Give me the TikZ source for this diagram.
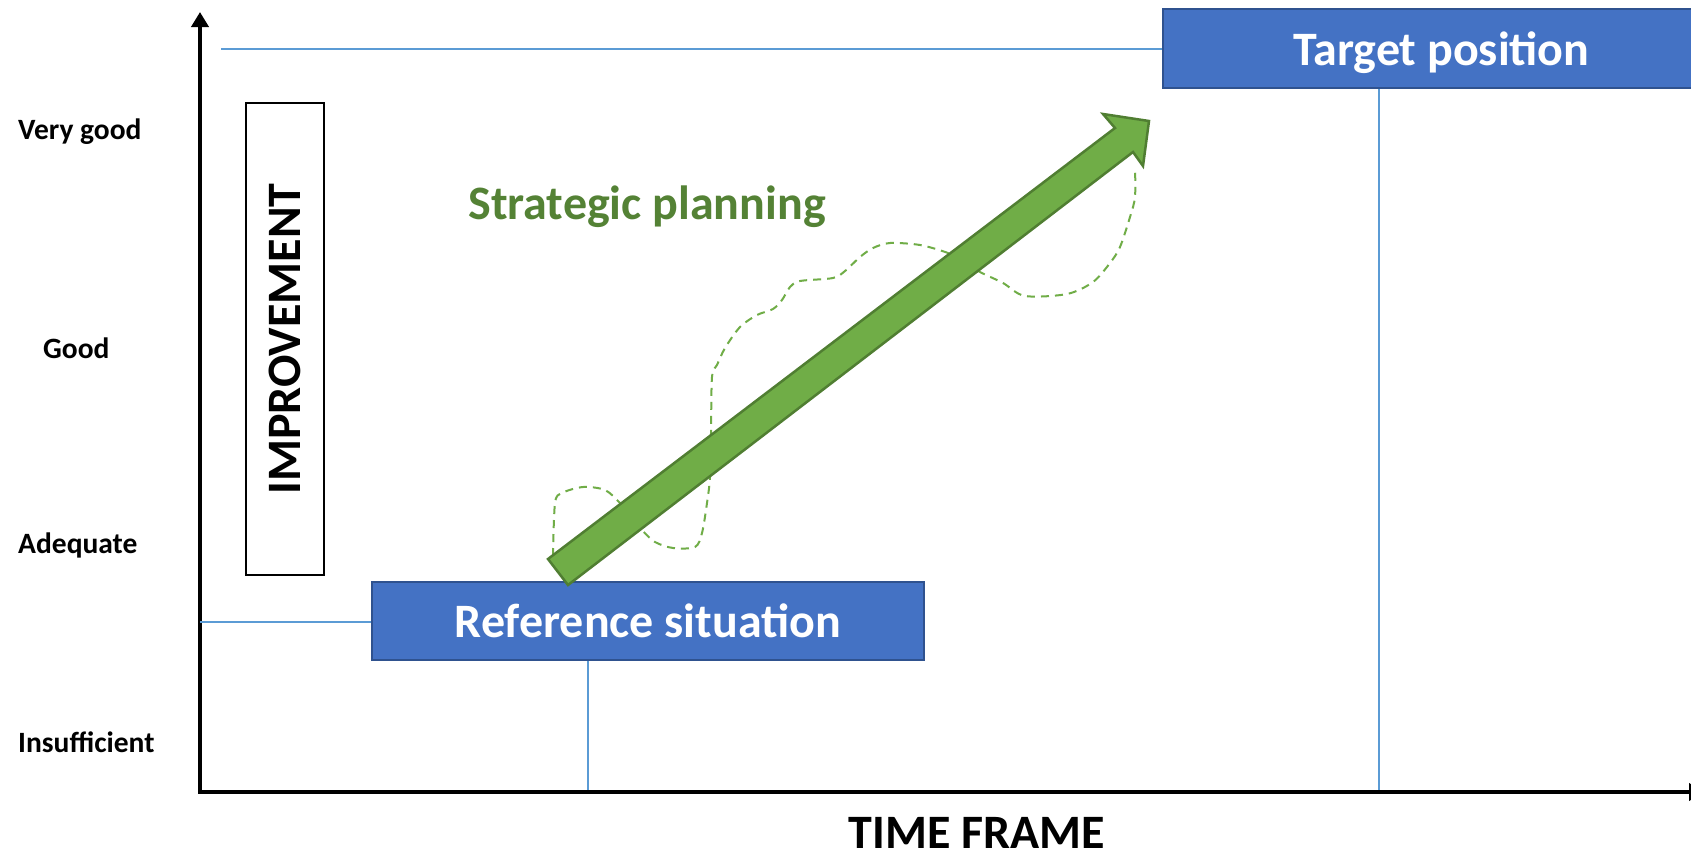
\documentclass[tikz,border=0pt]{standalone}
\usepackage{fontspec}
\setmainfont{Carlito}
\usetikzlibrary{arrows.meta}
\definecolor{boxblue}{HTML}{4472C4}
\definecolor{boxedge}{HTML}{2F528F}
\definecolor{guide}{HTML}{5B9BD5}
\definecolor{arrowgreen}{HTML}{70AD47}
\definecolor{arrowedge}{HTML}{507E32}
\definecolor{textgreen}{HTML}{548235}
\begin{document}
\begin{tikzpicture}[x=1pt,y=-1pt,
  bluebox/.style={draw=boxedge,line width=2pt,fill=boxblue,text=white,text depth=0pt,
    font=\bfseries\fontsize{48}{52}\selectfont,inner sep=0pt},
  guideline/.style={draw=guide,line width=1.3pt},
  axisline/.style={line width=4pt,-{Triangle[width=17pt,length=15pt]}},
  level/.style={anchor=west,font=\bfseries\fontsize{29.5}{33}\selectfont,inner sep=0pt},
  pathdash/.style={draw=arrowgreen,line width=2pt,dash pattern=on 8pt off 6pt}]
\useasboundingbox (0,0) rectangle (1691,855);
\clip (0,0) rectangle (1691,855);
\fill[white] (0,0) rectangle (1691,855);

% axes
\coordinate (origin) at (200,792);
\coordinate (ytop) at (200,12);
\coordinate (xend) at (1704,792);
\coordinate (xstart) at (198,792);
\draw[axisline] (origin) -- (ytop);
\draw[axisline] (xstart) -- (xend);

% level labels
\node[level] (vg) at (18,132) {Very good};
\node[level] (gd) at (43,348) {Good};
\node[level] (adq) at (18,545) {Adequate};
\node[level] (ins) at (18,742) {Insufficient};

% boxes
\node[bluebox,minimum width=557pt,minimum height=79pt] (target) at (1441.5,48.5) {Target position};
\node[bluebox,minimum width=552pt,minimum height=78pt] (ref) at (648,621) {Reference situation};
\node[draw,line width=1.5pt,rotate=90,minimum width=472pt,minimum height=78pt,inner sep=0pt,
  font=\bfseries\fontsize{48}{52}\selectfont] (imp) at (285,339) {IMPROVEMENT};

% guide lines
\coordinate (tl) at (221,49);
\draw[guideline] (tl) -- (tl -| target.west);
\coordinate (rl) at (200,622);
\draw[guideline] (rl) -- (rl -| ref.west);
\coordinate (rv) at (588,790);
\draw[guideline] (ref.south -| rv) -- (rv);
\coordinate (tv) at (1379,790);
\draw[guideline] (target.south -| tv) -- (tv);

% labels
\node[text=textgreen,font=\bfseries\fontsize{48}{52}\selectfont,inner sep=0pt] (sp) at (647,207) {Strategic planning};
\node[font=\bfseries\fontsize{48}{52}\selectfont,inner sep=0pt] (tf) at (977,833) {TIME FRAME};

% dashed planning path
\draw[pathdash] plot[smooth,tension=0.5] coordinates {
 (553,556) (555,503) (562,493) (583,487) (605,490) (620,503) (631,516)
 (642,530) (655,542) (673,548) (695,547) (702,533) (707,503) (710,477)
 (711,433) (712,377) (717,365) (725,348) (740,327) (757,315) (773,309)
 (782,300) (790,287) (800,281) (833,278) (845,271) (860,257) (873,248)
 (890,243) (920,245) (948,253) (964,262) (980,272) (1003,283) (1025,296)
 (1067,294) (1093,282) (1110,263) (1120,247) (1130,217) (1135,197) (1135,167)};

% green arrow
\draw[fill=arrowgreen,draw=arrowedge,line width=2.5pt,line join=miter]
  (548,559) coordinate (tailL) -- (1115,128) coordinate (innerL) -- (1103,114) coordinate (barbL)
  -- (1149,121) coordinate (tip) -- (1143,166) coordinate (barbR) -- (1133,152) coordinate (innerR)
  -- (568,585) coordinate (tailR) -- cycle;
\end{tikzpicture}
\end{document}
